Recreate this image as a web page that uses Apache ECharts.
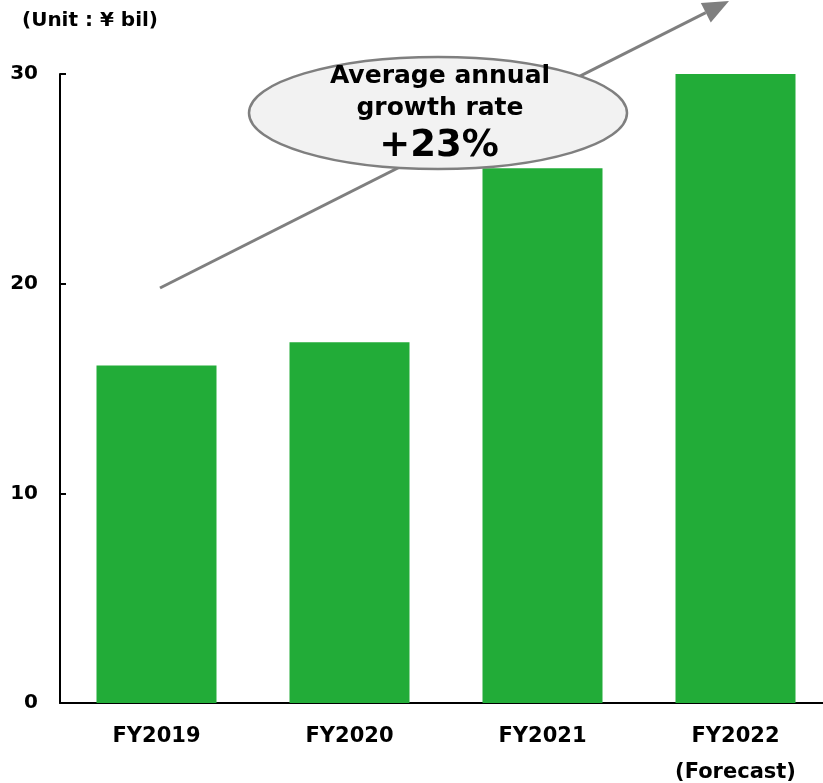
<!DOCTYPE html>
<html>
<head>
<meta charset="utf-8">
<style>
  html, body { margin: 0; padding: 0; background: #fff; }
  #chart { width: 823px; height: 783px; }
</style>
<script src="https://cdn.jsdelivr.net/npm/echarts@6/dist/echarts.min.js"></script>
</head>
<body>
<div id="chart"></div>
<script>
// data
const categories = ['FY2019', 'FY2020', 'FY2021', 'FY2022\n(Forecast)']
const salesValues = [16.1, 17.2, 25.5, 30.0]
const yTicks = [0, 10, 20, 30]

const chart = echarts.init(document.getElementById('chart'))
const fontFamily = 'DejaVu Sans, Verdana, sans-serif'

// arrow geometry (annotation only)
const arrowStart = [160, 288]
const arrowTip = [729, 1]
const dx = arrowTip[0] - arrowStart[0]
const dy = arrowTip[1] - arrowStart[1]
const len = Math.sqrt(dx * dx + dy * dy)
const ux = dx / len, uy = dy / len
const headLen = 26, headHalf = 11
const baseX = arrowTip[0] - ux * headLen
const baseY = arrowTip[1] - uy * headLen

const option = {
  animation: false,
  textStyle: { fontFamily: fontFamily },
  grid: {
    left: 60,
    top: 74,
    bottom: 80,
    width: 772,
    outerBoundsMode: 'none',
    containLabel: false
  },
  xAxis: {
    type: 'category',
    data: categories,
    boundaryGap: true,
    axisLine: { lineStyle: { color: '#000', width: 2 } },
    axisTick: { show: false },
    axisLabel: {
      color: '#000',
      fontSize: 21,
      fontWeight: 'bold',
      lineHeight: 36,
      margin: 16,
      interval: 0
    }
  },
  yAxis: {
    type: 'value',
    min: 0,
    max: yTicks[yTicks.length - 1],
    interval: 10,
    axisLine: { show: true, lineStyle: { color: '#000', width: 2 } },
    axisTick: { show: true, inside: true, length: 6, lineStyle: { color: '#000', width: 2 } },
    splitLine: { show: false },
    axisLabel: {
      color: '#000',
      fontSize: 20,
      fontWeight: 'bold',
      margin: 22
    }
  },
  series: [
    {
      type: 'bar',
      data: salesValues,
      barWidth: 120,
      itemStyle: { color: '#22AC38' },
      z: 2
    }
  ],
  graphic: [
    {
      type: 'text',
      left: 22,
      top: 11,
      style: {
        text: '(Unit : ¥ bil)',
        fontSize: 20,
        fontWeight: 'bold',
        fontFamily: fontFamily,
        fill: '#000'
      }
    },
    {
      type: 'line',
      z: 5,
      shape: { x1: arrowStart[0], y1: arrowStart[1], x2: baseX, y2: baseY },
      style: { stroke: '#7f7f7f', lineWidth: 3 }
    },
    {
      type: 'polygon',
      z: 5,
      shape: {
        points: [
          arrowTip,
          [baseX - uy * headHalf, baseY + ux * headHalf],
          [baseX + uy * headHalf, baseY - ux * headHalf]
        ]
      },
      style: { fill: '#7f7f7f' }
    },
    {
      type: 'ellipse',
      z: 6,
      shape: { cx: 438, cy: 113, rx: 189, ry: 56 },
      style: { fill: '#f2f2f2', stroke: '#7f7f7f', lineWidth: 2.5 }
    },
    {
      type: 'text',
      z: 7,
      x: 440,
      y: 76,
      style: {
        text: 'Average annual',
        fontSize: 25,
        fontWeight: 'bold',
        fontFamily: fontFamily,
        fill: '#000',
        align: 'center',
        verticalAlign: 'middle'
      }
    },
    {
      type: 'text',
      z: 7,
      x: 440,
      y: 108,
      style: {
        text: 'growth rate',
        fontSize: 25,
        fontWeight: 'bold',
        fontFamily: fontFamily,
        fill: '#000',
        align: 'center',
        verticalAlign: 'middle'
      }
    },
    {
      type: 'text',
      z: 7,
      x: 439,
      y: 146,
      style: {
        text: '+23%',
        fontSize: 37,
        fontWeight: 'bold',
        fontFamily: fontFamily,
        fill: '#000',
        align: 'center',
        verticalAlign: 'middle'
      }
    }
  ]
}

chart.setOption(option)
</script>
</body>
</html>
